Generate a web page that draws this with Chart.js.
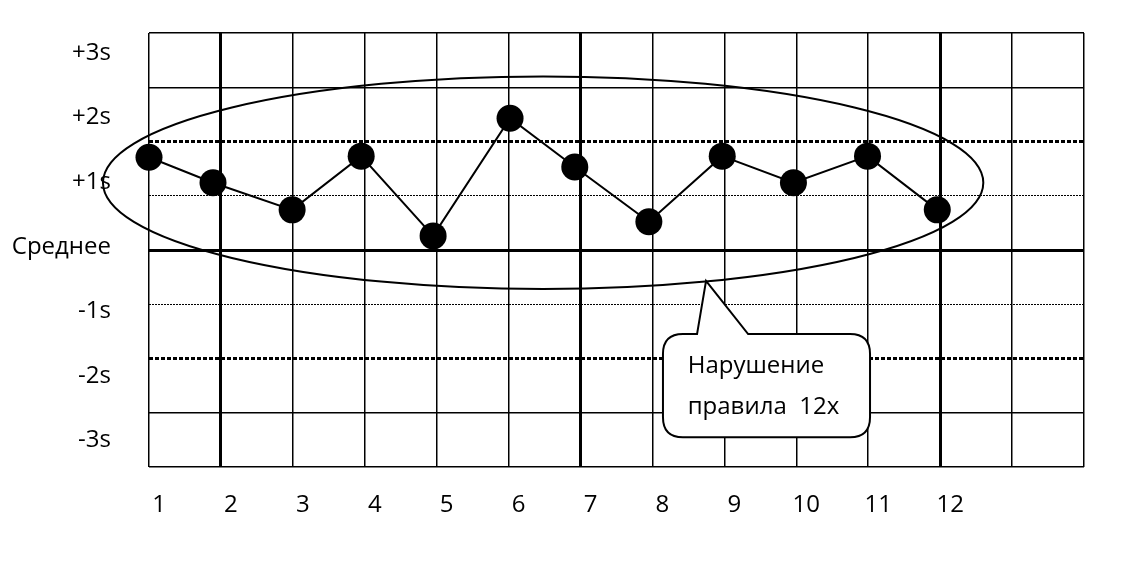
<!DOCTYPE html>
<html>
<head>
<meta charset="utf-8">
<script src="https://cdn.jsdelivr.net/npm/chart.js@4.4.0/dist/chart.umd.min.js"></script>
<style>
  html, body { margin: 0; padding: 0; background: #fff; }
  #wrap { width: 1128px; height: 569px; }
</style>
</head>
<body>
<div id="wrap"><canvas id="qcChart"></canvas></div>
<script>
// run numbers on the x scale (0 = first vertical line) and their values on the grid scale
const runX = [0, 0.89, 1.99, 2.95, 3.95, 5.02, 5.92, 6.95, 7.97, 8.96, 9.99, 10.96];
const runY = [1.71, 1.24, 0.74, 1.73, 0.26, 2.43, 1.53, 0.52, 1.73, 1.24, 1.73, 0.74];
const xTickLabels = ['1', '2', '3', '4', '5', '6', '7', '8', '9', '10', '11', '12'];
const sdLabels = ['-3s', '-2s', '-1s', 'Среднее', '+1s', '+2s', '+3s'];
const calloutText = ['Нарушение', 'правила  12x'];

const FONT = '"Open Sans", "DejaVu Sans", sans-serif';

// ellipse round the run and the speech bubble, drawn on top
const notesPlugin = {
    id: 'notes',
    afterDatasetsDraw(chart) {
        const ctx = chart.ctx;
        const xs = chart.scales.x, ys = chart.scales.y;
        const px = v => xs.getPixelForValue(v);
        const py = v => ys.getPixelForValue(v);
        ctx.save();
        ctx.strokeStyle = '#000';
        ctx.lineWidth = 2;
        // ellipse
        const cx = px(5.48), cy = py(1.24);
        const rx = px(5.48 + 6.12) - cx, ry = cy - py(1.24 + 1.96);
        ctx.beginPath();
        ctx.ellipse(cx, cy, rx, ry, 0, 0, Math.PI * 2);
        ctx.stroke();
        // bubble
        const x0 = px(7.146), x1 = px(10.025), y0 = py(-1.55), y1 = py(-3.45);
        const r = 20;
        const bl = px(7.62), br = px(8.33), tx = px(7.745), ty = py(-0.57);
        ctx.beginPath();
        ctx.moveTo(x0 + r, y0);
        ctx.lineTo(bl, y0);
        ctx.lineTo(tx, ty);
        ctx.lineTo(br, y0);
        ctx.lineTo(x1 - r, y0);
        ctx.quadraticCurveTo(x1, y0, x1, y0 + r);
        ctx.lineTo(x1, y1 - r);
        ctx.quadraticCurveTo(x1, y1, x1 - r, y1);
        ctx.lineTo(x0 + r, y1);
        ctx.quadraticCurveTo(x0, y1, x0, y1 - r);
        ctx.lineTo(x0, y0 + r);
        ctx.quadraticCurveTo(x0, y0, x0 + r, y0);
        ctx.closePath();
        ctx.fillStyle = '#fff';
        ctx.fill();
        ctx.stroke();
        ctx.fillStyle = '#000';
        ctx.font = '24px ' + FONT;
        ctx.textBaseline = 'alphabetic';
        ctx.textAlign = 'left';
        ctx.fillText(calloutText[0], px(7.49), py(-2.27));
        ctx.fillText(calloutText[1], px(7.49), py(-3.02));
        ctx.restore();
    }
};

function hStyle(v) {
    if (v === 0) return { w: 3, dash: [] };
    if (v === 2 || v === -2) return { w: 3, dash: [4, 2] };
    if (v === 1 || v === -1) return { w: 1, dash: [2, 1] };
    return { w: 1.5, dash: [] };
}

window.addEventListener('load', function() {
    const ctx = document.getElementById('qcChart').getContext('2d');
    new Chart(ctx, {
        type: 'line',
        data: {
            datasets: [{
                data: runX.map((x, i) => ({ x: x, y: runY[i] })),
                borderColor: '#000',
                backgroundColor: '#000',
                borderWidth: 2,
                pointRadius: 13.5,
                pointBorderWidth: 0,
                tension: 0,
                clip: false,
                yAxisID: 'y'
            }]
        },
        options: {
            responsive: true,
            maintainAspectRatio: false,
            animation: false,
            layout: { padding: { top: 33, right: 44, left: 0, bottom: 0 } },
            plugins: { legend: { display: false }, tooltip: { enabled: false } },
            scales: {
                x: {
                    type: 'linear',
                    min: 0, max: 13,
                    afterFit: s => { s.height = 102; s.paddingLeft = 0; s.paddingRight = 0; },
                    grid: {
                        color: '#000',
                        lineWidth: c => ([1, 6, 11].includes(c.tick.value) ? 3 : 1.5),
                        drawTicks: false
                    },
                    border: { display: false },
                    ticks: {
                        stepSize: 1,
                        padding: 24,
                        labelOffset: 10,
                        color: '#000',
                        font: { family: FONT, size: 24 },
                        maxRotation: 0,
                        autoSkip: false,
                        callback: v => (v < xTickLabels.length ? xTickLabels[v] : '')
                    }
                },
                yl: {
                    type: 'linear',
                    position: 'left',
                    min: -3.41, max: 3.31,
                    afterFit: s => { s.width = 149; s.paddingTop = 0; s.paddingBottom = 0; },
                    afterBuildTicks: s => { s.ticks = sdLabels.map((t, i) => ({ value: i - 3 })); },
                    grid: { display: false },
                    border: { display: false },
                    ticks: {
                        padding: 30,
                        color: '#000',
                        font: { family: FONT, size: 24 },
                        callback: v => sdLabels[v + 3]
                    }
                },
                y: {
                    type: 'linear',
                    position: 'left',
                    min: -4, max: 4,
                    afterFit: s => { s.width = 0; s.paddingTop = 0; s.paddingBottom = 0; },
                    grid: {
                        color: '#000',
                        lineWidth: c => hStyle(c.tick.value).w,
                        drawTicks: false
                    },
                    border: {
                        display: false,
                        dash: c => (c.tick ? hStyle(c.tick.value).dash : [])
                    },
                    ticks: { display: false, stepSize: 1 }
                }
            }
        },
        plugins: [notesPlugin]
    });
});
</script>
</body>
</html>
